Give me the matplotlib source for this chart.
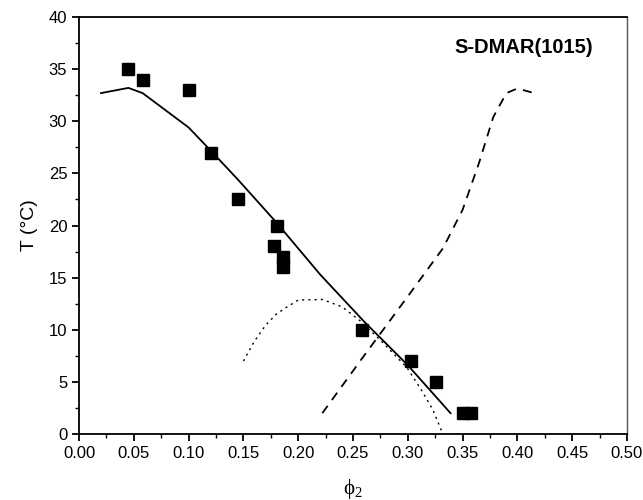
import matplotlib
matplotlib.use('Agg')
import matplotlib.pyplot as plt
from matplotlib.ticker import MultipleLocator

plt.rcParams['font.family'] = ['Liberation Sans', 'DejaVu Sans']
plt.rcParams['mathtext.fontset'] = 'custom'
plt.rcParams['mathtext.rm'] = 'Liberation Serif'
plt.rcParams['mathtext.it'] = 'Liberation Serif:italic'

# experimental points
exp_x = [0.045, 0.058, 0.100, 0.120, 0.145, 0.181, 0.178, 0.186, 0.186, 0.258, 0.303, 0.326, 0.350, 0.358]
exp_T = [35, 34, 33, 27, 22.5, 20, 18, 17, 16, 10, 7, 5, 2, 2]

# solid curve
sol_x = [0.020, 0.045, 0.058, 0.100, 0.120, 0.145, 0.180, 0.220, 0.260, 0.300, 0.339]
sol_T = [32.7, 33.2, 32.7, 29.4, 27.2, 24.4, 20.3, 15.3, 10.8, 6.6, 2.0]

# dashed curve
das_x = [0.222, 0.260, 0.300, 0.332, 0.350, 0.365, 0.378, 0.390, 0.399, 0.405, 0.419]
das_T = [2.0, 7.5, 13.2, 17.8, 21.5, 26.0, 30.4, 32.7, 33.1, 33.0, 32.6]

# dotted curve
dot_x = [0.150, 0.160, 0.170, 0.180, 0.190, 0.200, 0.222, 0.240, 0.256, 0.275, 0.299, 0.312, 0.323, 0.332]
dot_T = [7.0, 8.9, 10.4, 11.5, 12.2, 12.85, 12.9, 12.2, 10.9, 9.0, 6.4, 4.3, 2.3, 0.0]

fig = plt.figure(figsize=(6.43, 5.0), dpi=100)
ax = fig.add_axes([0.123, 0.132, 0.852, 0.834])

ax.plot(sol_x, sol_T, '-', color='black', lw=1.3)
ax.plot(das_x, das_T, '--', color='black', lw=1.3, dashes=(5, 4))
ax.plot(dot_x, dot_T, ':', color='black', lw=1.0, dashes=(1.5, 3))
ax.plot(exp_x, exp_T, 's', color='black', ms=8, ls='none')

ax.set_xlim(0, 0.5)
ax.set_ylim(0, 40)
ax.xaxis.set_major_locator(MultipleLocator(0.05))
ax.xaxis.set_minor_locator(MultipleLocator(0.025))
ax.yaxis.set_major_locator(MultipleLocator(5))
ax.yaxis.set_minor_locator(MultipleLocator(2.5))
ax.xaxis.set_major_formatter(plt.FormatStrFormatter('%.2f'))
ax.tick_params(which='major', direction='out', length=5, width=1.3, labelsize=12, top=False, right=False)
ax.tick_params(which='minor', direction='out', length=3, width=1.0, top=False, right=False)

for s in ['left', 'bottom', 'top']:
    ax.spines[s].set_linewidth(1.3)
ax.spines['right'].set_color('#555555')
ax.spines['right'].set_linewidth(1.0)

ax.set_xlabel(r'$\mathrm{\phi_2}$', fontsize=15, labelpad=12)
ax.set_ylabel('T (°C)', fontsize=14, labelpad=8)

ax.text(0.469, 37.1, 'S-DMAR(1015)', fontsize=14.5, fontweight='bold', ha='right', va='center')

fig.savefig('out.png', dpi=100)
